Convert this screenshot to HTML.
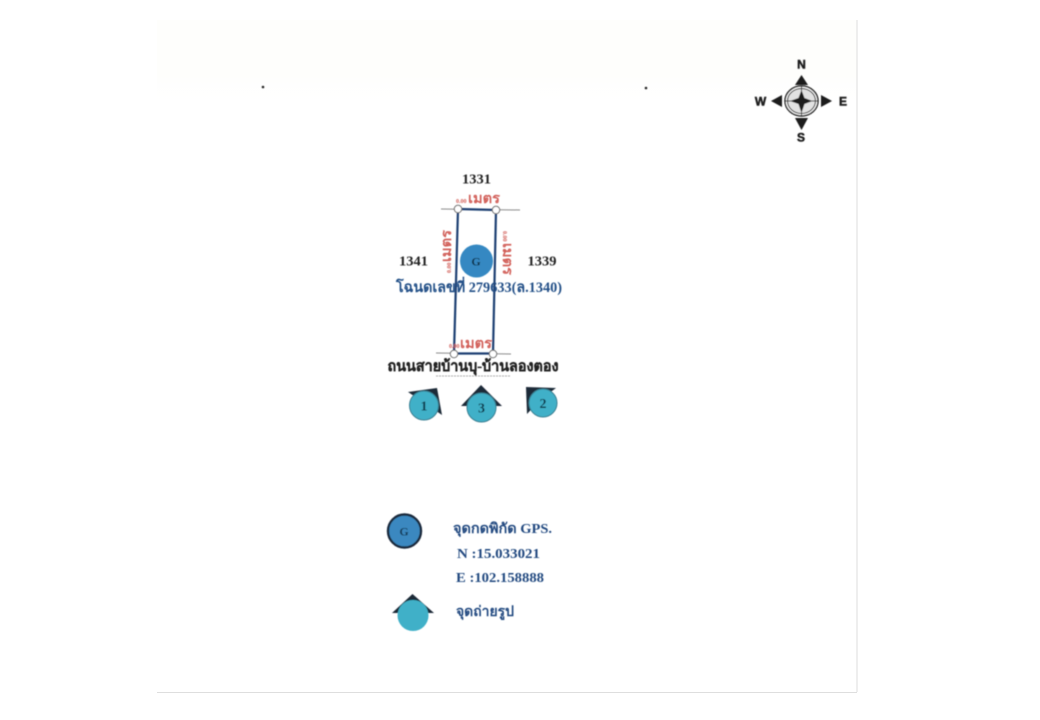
<!DOCTYPE html>
<html><head><meta charset="utf-8"><style>
html,body{margin:0;padding:0;background:#fff;width:1040px;height:720px;overflow:hidden}
svg{display:block}
text{font-family:"Liberation Serif","Noto Serif CJK SC","Noto Sans CJK SC",serif;font-weight:bold}
text.c{font-family:"Liberation Sans",sans-serif;stroke:#1c1c1c;stroke-width:.5}
</style></head><body>
<svg width="1040" height="720" viewBox="0 0 1040 720" xmlns="http://www.w3.org/2000/svg">
<defs>
<filter id="b" x="-5%" y="-5%" width="110%" height="110%"><feGaussianBlur stdDeviation="0.6"/></filter>
<linearGradient id="f" x1="0" y1="0" x2="0" y2="1"><stop offset="0" stop-color="#fdfdfa" stop-opacity=".6"/><stop offset=".6" stop-color="#fdfdfa" stop-opacity=".6"/><stop offset="1" stop-color="#fff" stop-opacity="0"/></linearGradient>
</defs>
<rect width="1040" height="720" fill="#fff"/>
<rect x="157" y="20" width="700" height="90" fill="url(#f)"/>
<line x1="857" y1="20" x2="857" y2="692" stroke="#dedede"/>
<line x1="157" y1="692.5" x2="857" y2="692.5" stroke="#dedede"/>
<g filter="url(#b)">
<circle cx="263" cy="87" r="1.3" fill="#222"/>
<circle cx="646" cy="88" r="1.3" fill="#222"/>
<!-- compass -->
<g fill="#1c1c1c">
<ellipse cx="801.5" cy="101" rx="16.5" ry="15" fill="#fff" stroke="#222" stroke-width="1.5"/>
<ellipse cx="801.5" cy="101" rx="14" ry="12.5" fill="#e2e2e2" stroke="#222" stroke-width="1"/>
<line x1="785" y1="101" x2="818" y2="101" stroke="#222"/>
<line x1="801.5" y1="86" x2="801.5" y2="116" stroke="#222"/>
<polygon points="801.5,90 804.5,98 812.5,101 804.5,104 801.5,113 798.5,104 790,101 798.5,98"/>
<polygon points="801.5,75 808,85 795,85"/>
<polygon points="801.5,130 808,118 795,118"/>
<polygon points="771,101 782,95 782,107"/>
<polygon points="832,101 821,95 821,107"/>
<text class="c" x="801.5" y="68.5" font-size="12" text-anchor="middle">N</text>
<text class="c" x="801" y="141.5" font-size="12" text-anchor="middle">S</text>
<text class="c" x="760.5" y="105.5" font-size="12" text-anchor="middle">W</text>
<text class="c" x="843" y="105.5" font-size="12" text-anchor="middle">E</text>
</g>
<!-- plot -->
<line x1="441" y1="209" x2="520" y2="210" stroke="#8a8a8a"/>
<line x1="436" y1="353" x2="511" y2="354" stroke="#8a8a8a"/>
<polygon points="458,209 496,210 493,353.5 454,353.5" fill="none" stroke="#1f3f72" stroke-width="2.2"/>
<circle cx="458" cy="209" r="3.7" fill="#fff" stroke="#666"/>
<circle cx="496" cy="210" r="3.7" fill="#fff" stroke="#666"/>
<circle cx="454" cy="354" r="3.7" fill="#fff" stroke="#666"/>
<circle cx="493" cy="354" r="3.7" fill="#fff" stroke="#666"/>
<circle cx="476.5" cy="261" r="16.5" fill="#3488c2"/>
<text x="476" y="265.5" font-size="12" text-anchor="middle" fill="#0f3048">G</text>
<g fill="#222" font-size="14">
<text x="476.5" y="183.5" text-anchor="middle" textLength="29" lengthAdjust="spacingAndGlyphs">1331</text>
<text x="413.5" y="265.5" text-anchor="middle" textLength="29" lengthAdjust="spacingAndGlyphs">1341</text>
<text x="542" y="265.5" text-anchor="middle" textLength="29" lengthAdjust="spacingAndGlyphs">1339</text>
</g>
<!-- dimension labels -->
<g fill="#d2605a">
<text x="456" y="203" font-size="6">0.00</text>
<text x="468" y="203" font-size="14" textLength="32" lengthAdjust="spacingAndGlyphs">เมตร</text>
<text x="449" y="348" font-size="6">0.00</text>
<text x="460" y="348" font-size="14" textLength="32" lengthAdjust="spacingAndGlyphs">เมตร</text>
<text transform="translate(451,273) rotate(-90)" font-size="6">0.00</text>
<text transform="translate(451,262) rotate(-90)" font-size="14" textLength="32" lengthAdjust="spacingAndGlyphs">เมตร</text>
<text transform="translate(503,231) rotate(90)" font-size="6">0.00</text>
<text transform="translate(503,243) rotate(90)" font-size="14" textLength="32" lengthAdjust="spacingAndGlyphs">เมตร</text>
</g>
<text x="479" y="292" font-size="14.5" text-anchor="middle" fill="#234f87" textLength="166" lengthAdjust="spacingAndGlyphs">โฉนดเลขที่ 279633(ล.1340)</text>
<text x="473" y="371" font-size="15" text-anchor="middle" fill="#222" stroke="#222" stroke-width=".3" textLength="171" lengthAdjust="spacingAndGlyphs">ถนนสายบ้านบุ-บ้านลองตอง</text>
<line x1="436" y1="376" x2="510" y2="376" stroke="#aaa" stroke-dasharray="2 1"/>
<!-- photo points -->
<polygon points="408,392 437,388 442,415 420,400" fill="#1f2b38"/>
<circle cx="424" cy="405.5" r="14.5" fill="#3fb0c8" stroke="#3a7d90" stroke-width="1"/>
<text x="424" y="410.5" font-size="14" text-anchor="middle" fill="#0f3a4c">1</text>
<polygon points="481,385 502,406 461,406" fill="#1f2b38"/>
<circle cx="481.5" cy="407.5" r="14.5" fill="#3fb0c8" stroke="#3a7d90" stroke-width="1"/>
<text x="481.5" y="412.5" font-size="14" text-anchor="middle" fill="#0f3a4c">3</text>
<polygon points="526,387 556,388 540,400 527,414" fill="#1f2b38"/>
<circle cx="543" cy="403" r="14" fill="#3fb0c8" stroke="#3a7d90" stroke-width="1"/>
<text x="543" y="408" font-size="14" text-anchor="middle" fill="#0f3a4c">2</text>
<!-- legend -->
<circle cx="404.5" cy="531" r="16.5" fill="#3b88c0" stroke="#1a2a3c" stroke-width="2.4"/>
<text x="404" y="535.5" font-size="12" text-anchor="middle" fill="#123a58">G</text>
<g fill="#234a80" font-size="14">
<text x="453" y="533" textLength="99" lengthAdjust="spacingAndGlyphs">จุดกดพิกัด GPS.</text>
<text x="457" y="558" textLength="83" lengthAdjust="spacingAndGlyphs">N :15.033021</text>
<text x="456" y="582" textLength="88" lengthAdjust="spacingAndGlyphs">E :102.158888</text>
<text x="456" y="616" textLength="58" lengthAdjust="spacingAndGlyphs">จุดถ่ายรูป</text>
</g>
<polygon points="412.5,594 434,613 392,613" fill="#1f2b38"/>
<circle cx="413" cy="615.5" r="15.5" fill="#3fb0c8"/>
</g>
</svg>
</body></html>
